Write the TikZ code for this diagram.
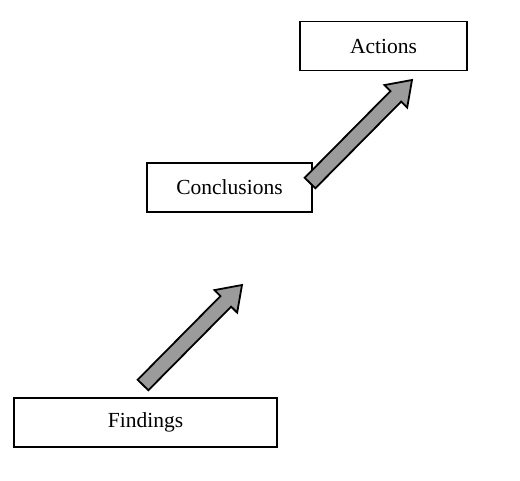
\documentclass[tikz,border=0pt]{standalone}
\usepackage{fontspec}
\setmainfont{Liberation Serif}
\usepackage{tikz}
\usetikzlibrary{calc}

\definecolor{arrowgray}{RGB}{155,155,155}

\newcommand{\fatarrow}[2]{%
  \draw[fatarrow] let \p1=($(#2)-(#1)$), \n1={atan2(\y1,\x1)}, \n2={veclen(\x1,\y1)-23} in
    ($(#1)+(\n1+90:7.5)$) -- ($(#1)+(\n1:\n2)+(\n1+90:7.5)$) -- ($(#1)+(\n1:\n2)+(\n1+90:16)$)
    -- (#2) -- ($(#1)+(\n1:\n2)+(\n1-90:16)$) -- ($(#1)+(\n1:\n2)+(\n1-90:7.5)$)
    -- ($(#1)+(\n1-90:7.5)$) -- cycle;}

\begin{document}
\begin{tikzpicture}[x=1pt,y=1pt,
    box/.style={draw, line width=1.8pt, minimum width=#1, minimum height=49pt, inner sep=0pt,
      font=\fontsize{21.5}{24}\selectfont},
    fatarrow/.style={line width=1.8pt, fill=arrowgray, line join=miter}]
  \useasboundingbox (0,0) rectangle (520,480);
  \node[box=167pt] (act) at (383.5,434) {Actions};
  \node[box=165pt] (conc) at (229.5,292.5) {Conclusions};
  \node[box=263pt] (find) at (145.5,57.5) {Findings};
  \coordinate (tailA) at (143,95);
  \coordinate (headA) at (242,195);
  \coordinate (tailB) at (310,297);
  \coordinate (headB) at (412,400);
  \fatarrow{tailA}{headA}
  \fatarrow{tailB}{headB}
\end{tikzpicture}
\end{document}
